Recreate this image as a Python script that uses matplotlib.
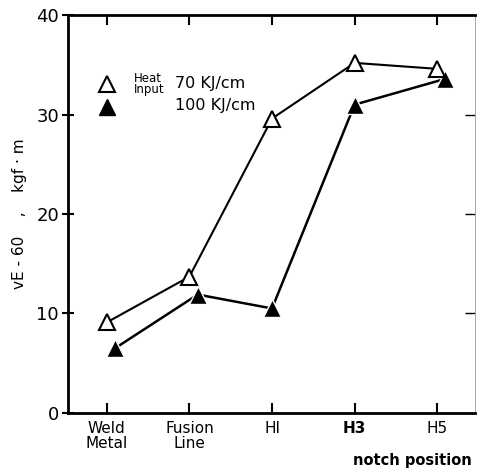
import matplotlib.pyplot as plt
import numpy as np

plt.rcParams.update({'font.family': 'DejaVu Sans'})

# data
positions = ['Weld\nMetal', 'Fusion\nLine', 'HI', 'H3', 'H5']
ve_70 = [9.1, 13.7, 29.6, 35.2, 34.6]     # heat input 70 KJ/cm (open)
ve_100 = [6.5, 11.9, 10.5, 31.0, 33.6]    # heat input 100 KJ/cm (filled)
yticks = [0, 10, 20, 30, 40]

x = np.arange(len(positions))
dodge = np.array([0.1, 0.1, 0.0, 0.0, 0.1])  # filled points sit a bit to the right

fig = plt.figure(figsize=(4.79, 4.74), dpi=100)
ax = fig.add_axes([0.142, 0.129, 0.85, 0.839])

ax.plot(x + dodge, ve_100, '-', color='black', lw=1.8, marker='^', ms=13,
        mfc='black', mec='white', mew=1.0, zorder=3)
ax.plot(x, ve_70, '-', color='black', lw=1.5, marker='^', ms=11,
        mfc='white', mec='black', mew=1.5, zorder=4)

ax.set_xlim(-0.47, 4.46)
ax.set_ylim(0, 40)
ax.set_yticks(yticks)
ax.set_xticks(x)
ax.set_xticklabels(positions, fontsize=11, linespacing=0.95)
ax.get_xticklabels()[3].set_fontweight('bold')
ax.tick_params(axis='y', direction='inout', length=9, width=1.5, labelsize=13, pad=2)
ax.tick_params(axis='x', direction='in', length=7, width=1.5, top=True, pad=6)

# right side: faint spine with inward ticks
sec = ax.secondary_yaxis('right')
sec.set_yticks([10, 20, 30])
sec.tick_params(direction='in', length=7, width=1.0, labelright=False)
sec.spines['right'].set_linewidth(0.6)
sec.spines['right'].set_color('#999999')
ax.spines['right'].set_visible(False)

for s in ['left', 'bottom', 'top']:
    ax.spines[s].set_linewidth(2)

ax.set_ylabel('vE - 60    ,    kgf · m', fontsize=11)
ax.yaxis.set_label_coords(-0.1, 0.5)
fig.text(0.985, 0.012, 'notch position', ha='right', va='bottom',
         fontsize=10.5, fontweight='bold')

# legend drawn by hand like the original
ax.plot([0.0], [33.1], marker='^', ms=11, mfc='white', mec='black', mew=1.5,
        ls='none')
ax.plot([0.0], [30.8], marker='^', ms=12, mfc='black', mec='black', ls='none')
ax.text(0.33, 33.1, 'Heat\nInput', fontsize=8.5, va='center', ha='left',
        linespacing=0.8)
ax.text(0.82, 33.1, '70 KJ/cm', fontsize=11.5, va='center', ha='left')
ax.text(0.82, 30.9, '100 KJ/cm', fontsize=11.5, va='center', ha='left')

fig.savefig('out.png', dpi=100)
